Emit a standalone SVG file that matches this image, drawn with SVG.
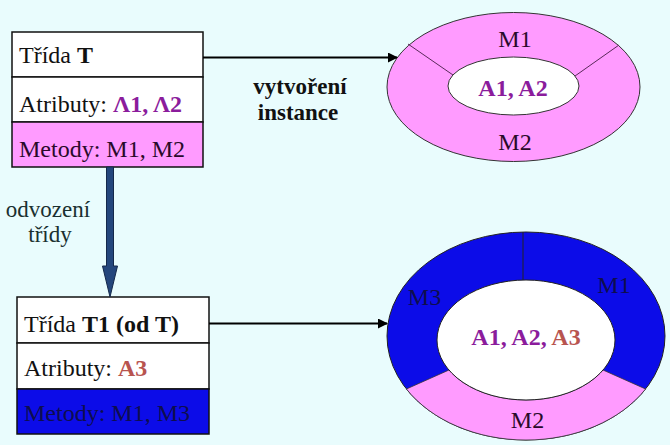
<svg xmlns="http://www.w3.org/2000/svg" width="670" height="445" viewBox="0 0 670 445">
<defs>
<style>
text{font-family:"Liberation Serif","Times New Roman",serif;font-size:24px;fill:#111}
.b{font-weight:bold}
.c{text-anchor:middle}
.pur{fill:#8b1c9c}
.red{fill:#b8544f}
.box{stroke:#111;stroke-width:1.5}
.navy{fill:#0e0e4e}
.lbl{font-size:23px;fill:#1a3030}
.conn{stroke:#000;stroke-width:2;fill:none}
</style>
<marker id="ah" viewBox="0 0 10 10" refX="9" refY="5" markerWidth="5" markerHeight="5" orient="auto" markerUnits="strokeWidth">
<path d="M0,0 L10,5 L0,10 Z" fill="#000"/>
</marker>
</defs>
<rect width="670" height="445" fill="#e9fcfd"/>

<g id="classT">
<rect x="12" y="32" width="191" height="45" fill="#ffffff" class="box"/>
<rect x="12" y="77" width="191" height="45" fill="#ffffff" class="box"/>
<rect x="12" y="122" width="191" height="45" fill="#ff9bff" class="box"/>
<text x="19" y="63">Třída <tspan class="b">T</tspan></text>
<text x="19" y="112">Atributy: <tspan class="b pur">Λ1, Λ2</tspan></text>
<text x="19" y="157" fill="#2a0a2a" style="fill:#2a0a2a">Metody: M1, M2</text>
</g>

<g id="classT1">
<rect x="17" y="297" width="192" height="46" fill="#ffffff" class="box"/>
<rect x="17" y="343" width="192" height="46" fill="#ffffff" class="box"/>
<rect x="17" y="389" width="192" height="45" fill="#0c0ce8" class="box"/>
<text x="24" y="332">Třída <tspan class="b">T1 (od T)</tspan></text>
<text x="24" y="376">Atributy: <tspan class="b red">A3</tspan></text>
<text x="24" y="421" class="navy">Metody: M1, M3</text>
</g>

<g id="instanceT">
<ellipse cx="513.5" cy="87" rx="126.5" ry="74.5" fill="#ff9bff" stroke="#333" stroke-width="1"/>
<line x1="408" y1="44" x2="453" y2="75" stroke="#5a2a5a" stroke-width="1"/>
<line x1="619" y1="45" x2="575" y2="76" stroke="#5a2a5a" stroke-width="1"/>
<ellipse cx="513.5" cy="86" rx="65.5" ry="29" fill="#ffffff" stroke="#333" stroke-width="1"/>
<text x="515" y="47" class="c" style="fill:#2a0a2a">M1</text>
<text x="515" y="150" class="c" style="fill:#2a0a2a">M2</text>
<text x="513" y="96" class="c b pur">A1, A2</text>
</g>

<g id="instanceT1">
<ellipse cx="526" cy="336" rx="139" ry="104" fill="#0c0ce8" stroke="#222" stroke-width="1"/>
<path d="M406.4,389 A139,104 0 0,0 645.6,389 L603,370 A89,60 0 0,1 449,370 Z" fill="#ff9bff" stroke="#333" stroke-width="0.8"/>
<line x1="523" y1="232" x2="523" y2="280" stroke="#222" stroke-width="1"/>
<ellipse cx="526" cy="340" rx="89" ry="60" fill="#ffffff" stroke="#222" stroke-width="1"/>
<text x="424.5" y="305" class="c navy">M3</text>
<text x="614" y="293" class="c navy">M1</text>
<text x="527.5" y="428" class="c" style="fill:#2a0a2a">M2</text>
<text x="526" y="345" class="c b"><tspan class="pur">A1, A2, </tspan><tspan class="red">A3</tspan></text>
</g>

<g id="connectors">
<line x1="203" y1="57.5" x2="397" y2="57.5" class="conn" marker-end="url(#ah)"/>
<line x1="209" y1="323.5" x2="387" y2="323.5" class="conn" marker-end="url(#ah)"/>
<path d="M106.5,167 L113.5,167 L113.5,266 L117.5,266 L110,297 L102.5,266 L106.5,266 Z" fill="#24467c" stroke="#14284a" stroke-width="1"/>
</g>

<g id="labels">
<text x="300" y="94" class="c b" style="font-size:23px">vytvoření</text>
<text x="298" y="120" class="c b" style="font-size:23px">instance</text>
<text x="48" y="217" class="c lbl">odvození</text>
<text x="50" y="242" class="c lbl">třídy</text>
</g>
</svg>
